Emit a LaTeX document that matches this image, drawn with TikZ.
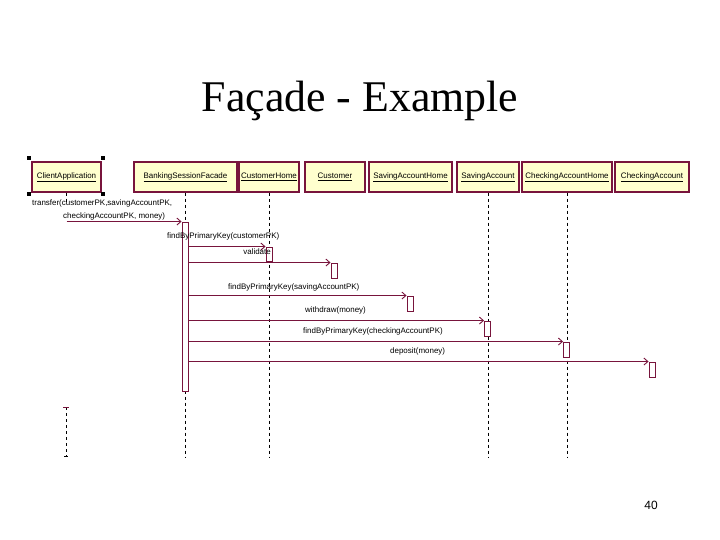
\documentclass[tikz,border=0pt]{standalone}
\usepackage{fontspec}
\setmainfont{Liberation Serif}
\setsansfont{Liberation Sans}
\usepackage{xcolor}
\usetikzlibrary{arrows.meta,positioning}
\definecolor{umlline}{RGB}{120,20,60}
\definecolor{umlfill}{RGB}{255,255,206}

\begin{document}
\begin{tikzpicture}[
        x=1bp, y=-1bp,
        obj/.style={rectangle, draw=umlline, line width=1.2bp, fill=umlfill, minimum height=30bp, inner sep=0pt, font=\sffamily\fontsize{8}{9}\selectfont},
        act/.style={rectangle, draw=umlline, line width=0.9bp, fill=white, minimum width=6bp, inner sep=0pt},
        life/.style={draw=black, line width=0.8bp, dash pattern=on 3bp off 3bp},
        msg/.style={-{Straight Barb[length=4bp,width=7bp]}, draw=umlline, line width=0.9bp},
        lbl/.style={font=\sffamily\fontsize{8}{9}\selectfont, inner sep=0pt, anchor=west},
        handle/.style={rectangle, fill=black, minimum size=4bp, inner sep=0pt}
    ]
        \useasboundingbox (0,0) rectangle (720,540);

        % Title
        \node[font=\fontsize{44}{48}\selectfont, anchor=base] (title) at (360,112) {Façade - Example};

        % Objects
        \node[obj, minimum width=69bp] (client) at (66.5,177) {\underline{ClientApplication}};
        \node[obj, minimum width=103bp] (facade) at (185.5,177) {\underline{BankingSessionFacade}};
        \node[obj, minimum width=60bp] (custhome) at (269,177) {\underline{CustomerHome}};
        \node[obj, minimum width=60bp] (cust) at (335,177) {\underline{Customer}};
        \node[obj, minimum width=83bp] (savhome) at (410.5,177) {\underline{SavingAccountHome}};
        \node[obj, minimum width=62bp] (sav) at (488,177) {\underline{SavingAccount}};
        \node[obj, minimum width=90bp] (chkhome) at (567,177) {\underline{CheckingAccountHome}};
        \node[obj, minimum width=74bp] (chk) at (652,177) {\underline{CheckingAccount}};

        % selection handles
        \node[handle] at ([xshift=-2bp,yshift=3bp]client.north west) {};
        \node[handle] at ([xshift=1bp,yshift=3bp]client.north east) {};
        \node[handle] at ([xshift=-2bp,yshift=-1bp]client.south west) {};
        \node[handle] at ([xshift=1bp,yshift=-1bp]client.south east) {};

        % Lifelines
        \coordinate (bot) at (0,457);
        \draw[life] (client.south) -- ++(0,12);
        \coordinate (cltop) at (66,407);
        \coordinate (clbot) at (66,456);
        \draw[life] (cltop) -- (clbot);
        \draw[umlline, line width=0.9bp] ([xshift=-3bp]cltop) -- ([xshift=3bp]cltop);
        \draw[line width=0.6bp] ([xshift=-2bp]clbot) -- ([xshift=2bp]clbot);
        \draw[life] (facade.south) -- (facade.south |- bot);
        \draw[life] (custhome.south) -- (custhome.south |- bot);
        \draw[life] (sav.south) -- (sav.south |- bot);
        \draw[life] (chkhome.south) -- (chkhome.south |- bot);

        % Activations
        \node[act, minimum height=169bp] (afacade) at (185,306.5) {};
        \node[act, minimum height=14bp] (acusthome) at (269,254) {};
        \node[act, minimum height=15bp] (acust) at (334,270.5) {};
        \node[act, minimum height=15bp] (asavhome) at (410,303.5) {};
        \node[act, minimum height=15bp] (asav) at (487.5,328.5) {};
        \node[act, minimum height=15bp] (achkhome) at (566.5,349.5) {};
        \node[act, minimum height=15bp] (achk) at (652,369.5) {};

        % Messages
        \draw[msg] (client.south |- afacade.north) -- (afacade.north west);
        \draw[msg] (afacade.east |- acusthome.north) -- (acusthome.north west);
        \draw[msg] (afacade.east |- acust.north) -- (acust.north west);
        \draw[msg] (afacade.east |- asavhome.north) -- (asavhome.north west);
        \draw[msg] (afacade.east |- asav.north) -- (asav.north west);
        \draw[msg] (afacade.east |- achkhome.north) -- (achkhome.north west);
        \draw[msg] (afacade.east |- achk.north) -- (achk.north west);

        % Labels
        \node[lbl] (ltransfer1) at (32,203) {transfer(customerPK,savingAccountPK,};
        \node[lbl] (ltransfer2) at (63,216) {checkingAccountPK, money)};
        \node[lbl] (lfindcust) at (167,236) {findByPrimaryKey(customerPK)};
        \node[lbl, anchor=east] (lvalidate) at (271,252) {validate};
        \node[lbl] (lfindsav) at (228,287) {findByPrimaryKey(savingAccountPK)};
        \node[lbl] (lwithdraw) at (305,310) {withdraw(money)};
        \node[lbl] (lfindchk) at (303,331) {findByPrimaryKey(checkingAccountPK)};
        \node[lbl] (ldeposit) at (390,351) {deposit(money)};

        % Page number
        \node[font=\sffamily\fontsize{12}{14}\selectfont, anchor=base] (page) at (651,509) {40};
    \end{tikzpicture}
\end{document}
